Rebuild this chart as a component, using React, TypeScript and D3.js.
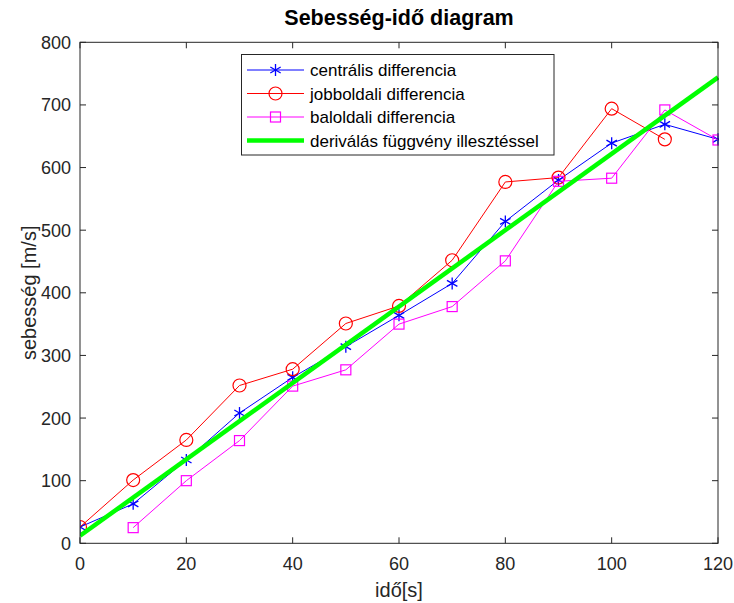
import React from "react";
import * as d3 from "d3";

const times = [0, 10, 20, 30, 40, 50, 60, 70, 80, 90, 100, 110, 120];
const centralValues = [26, 63, 133, 208, 265, 314, 364, 415, 514, 580, 639, 669, 645];
const forwardTimes = [0, 10, 20, 30, 40, 50, 60, 70, 80, 90, 100, 110];
const forwardValues = [26, 101, 165, 252, 278, 351, 379, 452, 577, 584, 694, 645];
const backwardTimes = [10, 20, 30, 40, 50, 60, 70, 80, 90, 100, 110, 120];
const backwardValues = [25, 100, 164, 251, 277, 350, 378, 451, 578, 583, 692, 644];
const fitTimes = [0, 120];
const fitValues = [12, 744];
const xTicks = [0, 20, 40, 60, 80, 100, 120];
const yTicks = [0, 100, 200, 300, 400, 500, 600, 700, 800];
const legendLabels = [
  "centrális differencia",
  "jobboldali differencia",
  "baloldali differencia",
  "deriválás függvény illesztéssel",
];

const W = 734;
const H = 603;
const L = 80, R = 718, T = 42.3, B = 543.3;
const FONT = "'Liberation Sans', Arial, Helvetica, sans-serif";
const AX = "#262626";

function Star({ cx, cy, color, s = 6 }: { cx: number; cy: number; color: string; s?: number }) {
  const a = s * Math.cos(Math.PI / 6);
  const b = s * Math.sin(Math.PI / 6);
  return (
    <g stroke={color} strokeWidth={1.3}>
      <line x1={cx} y1={cy - s} x2={cx} y2={cy + s} />
      <line x1={cx - a} y1={cy - b} x2={cx + a} y2={cy + b} />
      <line x1={cx - a} y1={cy + b} x2={cx + a} y2={cy - b} />
    </g>
  );
}

export default function App() {
  const x = d3.scaleLinear().domain([0, 120]).range([L, R]);
  const y = d3.scaleLinear().domain([0, 800]).range([B, T]);
  const line = d3
    .line<[number, number]>()
    .x((d) => x(d[0]))
    .y((d) => y(d[1]));

  const central: [number, number][] = times.map((t, i) => [t, centralValues[i]]);
  const forward: [number, number][] = forwardTimes.map((t, i) => [t, forwardValues[i]]);
  const backward: [number, number][] = backwardTimes.map((t, i) => [t, backwardValues[i]]);
  const fit: [number, number][] = fitTimes.map((t, i) => [t, fitValues[i]]);

  const tickLen = 6;
  const legX = 241.5, legY = 54.5, legW = 312.5, legH = 100.5;
  const rowY = [70, 93.5, 117, 140.5];
  const lx1 = 247, lx2 = 304, lm = 275.5, tx = 310;

  return (
    <svg
      width={W}
      height={H}
      style={{ position: "absolute", left: 0, top: 0, background: "#fff" }}
      fontFamily={FONT}
    >
      <rect x={0} y={0} width={W} height={H} fill="#fff" />
      <clipPath id="plotclip">
        <rect x={L} y={T - 1} width={R - L + 1} height={B - T + 2} />
      </clipPath>

      {/* data */}
      <g clipPath="url(#plotclip)">
        <path d={line(central) || ""} fill="none" stroke="#0000ff" strokeWidth={1} />
        {central.map((d, i) => (
          <Star key={"c" + i} cx={x(d[0])} cy={y(d[1])} color="#0000ff" />
        ))}
        <path d={line(forward) || ""} fill="none" stroke="#ff0000" strokeWidth={1} />
        {forward.map((d, i) => (
          <circle key={"f" + i} cx={x(d[0])} cy={y(d[1])} r={6.5} fill="none" stroke="#ff0000" strokeWidth={1.2} />
        ))}
        <path d={line(backward) || ""} fill="none" stroke="#ff00ff" strokeWidth={1} />
        {backward.map((d, i) => (
          <rect key={"b" + i} x={x(d[0]) - 5} y={y(d[1]) - 5} width={10} height={10} fill="none" stroke="#ff00ff" strokeWidth={1.2} />
        ))}
        <path d={line(fit) || ""} fill="none" stroke="#00ff00" strokeWidth={4.5} />
      </g>

      {/* axes box */}
      <rect x={L} y={T} width={R - L} height={B - T} fill="none" stroke={AX} strokeWidth={1} />
      {xTicks.map((t) => (
        <g key={"xt" + t}>
          <line x1={x(t)} x2={x(t)} y1={B} y2={B - tickLen} stroke={AX} />
          <line x1={x(t)} x2={x(t)} y1={T} y2={T + tickLen} stroke={AX} />
          <text x={x(t)} y={570} textAnchor="middle" fontSize={18} fill={AX}>
            {t}
          </text>
        </g>
      ))}
      {yTicks.map((t) => (
        <g key={"yt" + t}>
          <line x1={L} x2={L + tickLen} y1={y(t)} y2={y(t)} stroke={AX} />
          <line x1={R} x2={R - tickLen} y1={y(t)} y2={y(t)} stroke={AX} />
          <text x={71} y={y(t) + 6.5} textAnchor="end" fontSize={18} fill={AX}>
            {t}
          </text>
        </g>
      ))}

      {/* labels */}
      <text x={(L + R) / 2} y={25} textAnchor="middle" fontSize={21.5} fontWeight="bold" fill="#000">
        Sebesség-idő diagram
      </text>
      <text x={(L + R) / 2} y={597} textAnchor="middle" fontSize={20} fill={AX}>
        idő[s]
      </text>
      <text
        transform={`translate(36, ${(T + B) / 2}) rotate(-90)`}
        textAnchor="middle"
        fontSize={20}
        fill={AX}
      >
        sebesség [m/s]
      </text>

      {/* legend */}
      <rect x={legX} y={legY} width={legW} height={legH} fill="#fff" stroke={AX} strokeWidth={1} />
      <line x1={lx1} x2={lx2} y1={rowY[0]} y2={rowY[0]} stroke="#0000ff" />
      <Star cx={lm} cy={rowY[0]} color="#0000ff" />
      <line x1={lx1} x2={lx2} y1={rowY[1]} y2={rowY[1]} stroke="#ff0000" />
      <circle cx={lm} cy={rowY[1]} r={6.5} fill="none" stroke="#ff0000" strokeWidth={1.2} />
      <line x1={lx1} x2={lx2} y1={rowY[2]} y2={rowY[2]} stroke="#ff00ff" />
      <rect x={lm - 5} y={rowY[2] - 5} width={10} height={10} fill="none" stroke="#ff00ff" strokeWidth={1.2} />
      <line x1={lx1} x2={lx2} y1={rowY[3]} y2={rowY[3]} stroke="#00ff00" strokeWidth={4.5} />
      {legendLabels.map((s, i) => (
        <text key={s} x={tx} y={rowY[i] + 6} fontSize={17} fill="#000">
          {s}
        </text>
      ))}
    </svg>
  );
}
